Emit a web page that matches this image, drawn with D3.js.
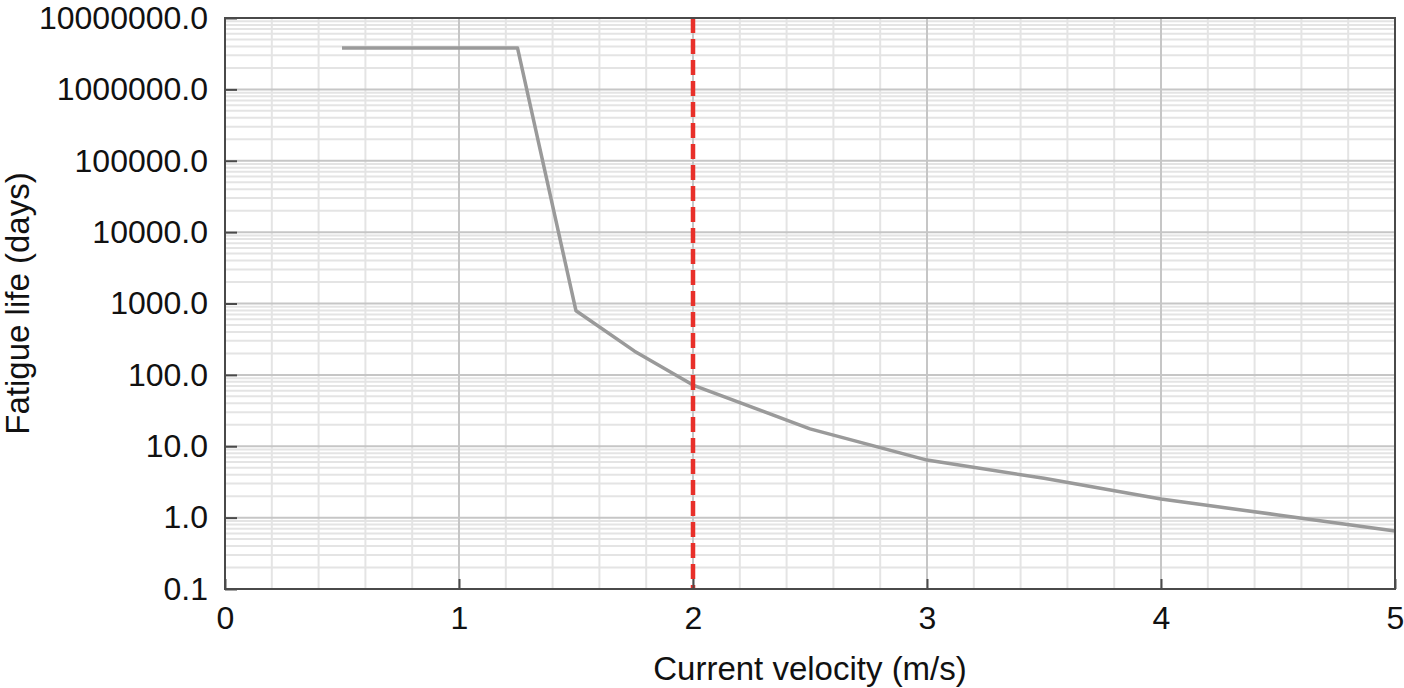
<!DOCTYPE html>
<html>
<head>
<meta charset="utf-8">
<script src="https://cdnjs.cloudflare.com/ajax/libs/d3/7.8.5/d3.min.js"></script>
<style>
  body { margin: 0; background: #fff; }
  text { font-family: "Liberation Sans", Arial, sans-serif; fill: #111; }
</style>
</head>
<body>
<div class="canvas"></div>
<script>
// data
const velocity = [0.5, 1.25, 1.5, 1.75, 2, 2.5, 3, 3.5, 4, 4.5, 5];
const fatigueLife = [3800000, 3800000, 790, 215, 72, 17.5, 6.4, 3.55, 1.82, 1.09, 0.65];
const limitVelocity = [2];
const xTicks = [0, 1, 2, 3, 4, 5];
const yTicks = [0.1, 1, 10, 100, 1000, 10000, 100000, 1000000, 10000000];

const width = 1404, height = 688;
const margin = {top: 18, right: 9, bottom: 99, left: 225};
const graphWidth = width - margin.left - margin.right;
const graphHeight = height - margin.top - margin.bottom;

const svg = d3.select('.canvas')
  .append('svg')
    .attr('width', width)
    .attr('height', height);

const graph = svg.append('g')
  .attr('transform', `translate(${margin.left}, ${margin.top})`);

const x = d3.scaleLinear()
  .domain([0, 5])
  .range([0, graphWidth]);

const y = d3.scaleLog()
  .domain([0.1, 10000000])
  .range([graphHeight, 0]);

// minor grid
const minorX = d3.range(0, 5.001, 0.2).filter(v => Math.abs(v - Math.round(v)) > 1e-6);
const minorY = [];
yTicks.slice(0, -1).forEach(d => {
  for (let k = 2; k <= 9; k++) minorY.push(d * k);
});

graph.append('g').selectAll('line')
  .data(minorX)
  .enter().append('line')
    .attr('x1', d => x(d)).attr('x2', d => x(d))
    .attr('y1', 0).attr('y2', graphHeight)
    .attr('stroke', '#e4e4e4').attr('stroke-width', 2);

graph.append('g').selectAll('line')
  .data(minorY)
  .enter().append('line')
    .attr('x1', 0).attr('x2', graphWidth)
    .attr('y1', d => y(d)).attr('y2', d => y(d))
    .attr('stroke', '#e4e4e4').attr('stroke-width', 2);

// major grid
graph.append('g').selectAll('line')
  .data(xTicks)
  .enter().append('line')
    .attr('x1', d => x(d)).attr('x2', d => x(d))
    .attr('y1', 0).attr('y2', graphHeight)
    .attr('stroke', '#c6c6c6').attr('stroke-width', 2);

graph.append('g').selectAll('line')
  .data(yTicks)
  .enter().append('line')
    .attr('x1', 0).attr('x2', graphWidth)
    .attr('y1', d => y(d)).attr('y2', d => y(d))
    .attr('stroke', '#c6c6c6').attr('stroke-width', 2);

// fatigue curve
const line = d3.line()
  .x((d, i) => x(velocity[i]))
  .y(d => y(d));

graph.append('path')
  .datum(fatigueLife)
  .attr('d', line)
  .attr('fill', 'none')
  .attr('stroke', '#9a9a9a')
  .attr('stroke-width', 3.5)
  .attr('stroke-linejoin', 'round');

// limit line
graph.selectAll('.limit')
  .data(limitVelocity)
  .enter().append('line')
    .attr('class', 'limit')
    .attr('x1', d => x(d)).attr('x2', d => x(d))
    .attr('y1', 0).attr('y2', graphHeight)
    .attr('stroke', '#e8302a')
    .attr('stroke-width', 4.5)
    .attr('stroke-dasharray', '15 6');

// frame
graph.append('rect')
  .attr('width', graphWidth)
  .attr('height', graphHeight)
  .attr('fill', 'none')
  .attr('stroke', '#4a4a4a')
  .attr('stroke-width', 2);

// axes
const xAxis = d3.axisBottom(x)
  .tickValues(xTicks)
  .tickSize(-10)
  .tickPadding(17)
  .tickFormat(d3.format('d'));

const yAxis = d3.axisLeft(y)
  .tickValues(yTicks)
  .tickSize(-12)
  .tickPadding(17)
  .tickFormat(d3.format('.1f'));

const xAxisGroup = graph.append('g')
  .attr('transform', `translate(0, ${graphHeight})`)
  .call(xAxis);

const yAxisGroup = graph.append('g')
  .call(yAxis);

[xAxisGroup, yAxisGroup].forEach(g => {
  g.select('.domain').remove();
  g.selectAll('line').attr('stroke', '#4a4a4a').attr('stroke-width', 2);
  g.selectAll('text')
    .attr('font-size', 32)
    .attr('fill', '#111')
    .attr('font-family', '"Liberation Sans", Arial, sans-serif');
});

// axis titles
svg.append('text')
  .attr('x', margin.left + graphWidth / 2)
  .attr('y', 680)
  .attr('text-anchor', 'middle')
  .attr('font-size', 33)
  .text('Current velocity (m/s)');

svg.append('text')
  .attr('transform', `translate(29, ${margin.top + graphHeight / 2}) rotate(-90)`)
  .attr('text-anchor', 'middle')
  .attr('font-size', 33)
  .text('Fatigue life (days)');
</script>
</body>
</html>
